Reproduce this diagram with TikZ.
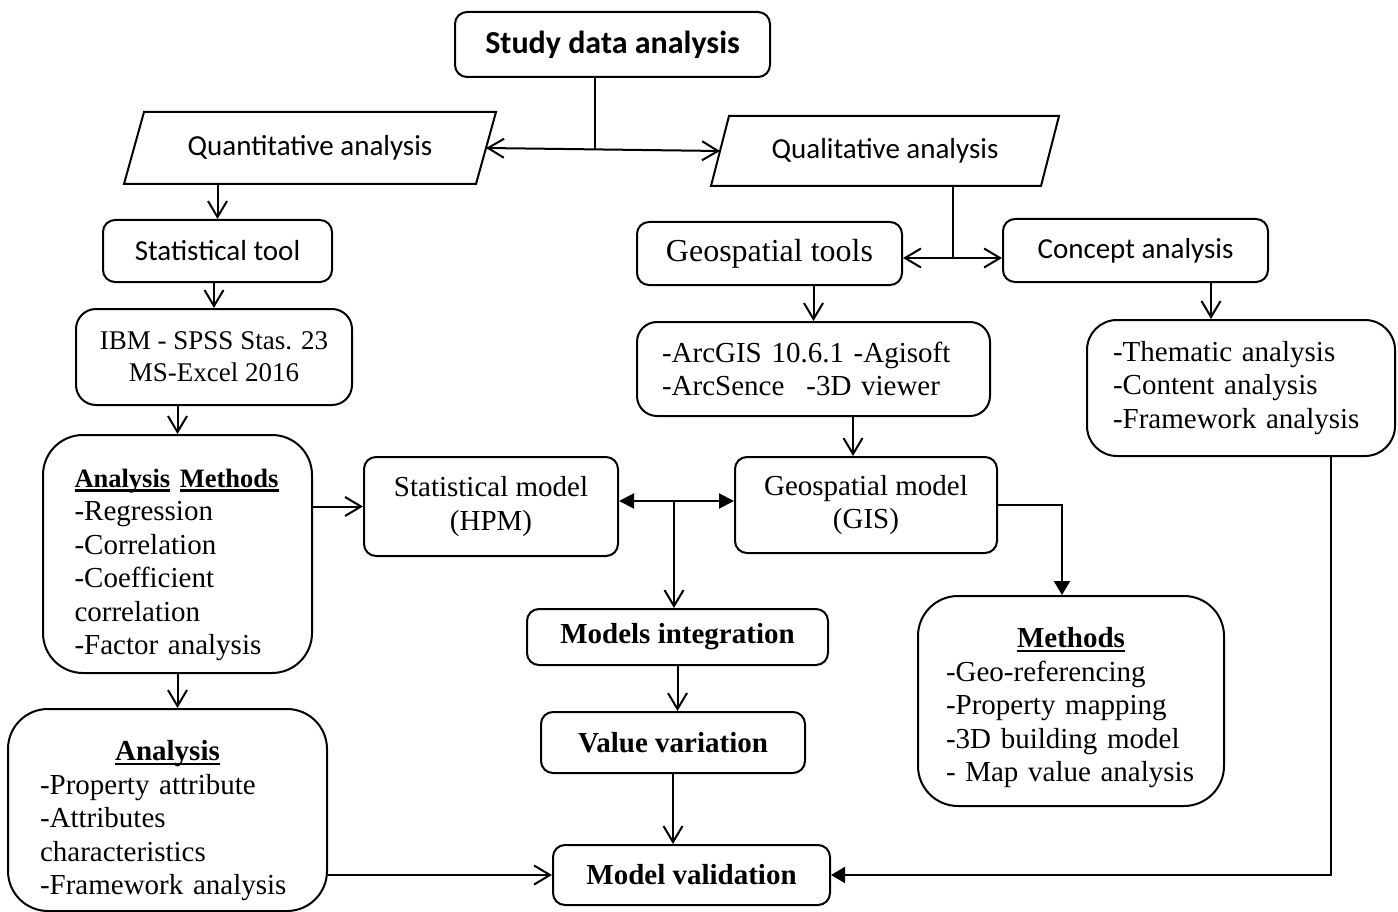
\documentclass[tikz,border=0pt]{standalone}
\usepackage{fontspec}
\setmainfont{Liberation Serif}
\newfontfamily\calib{Carlito}
\usetikzlibrary{arrows.meta,calc}
% thick underline for the box headings
\newcommand\ulbox[1]{\setbox0\hbox{#1}\rlap{\rule[-4.5pt]{\wd0}{2.2pt}}\box0}
\begin{document}
\begin{tikzpicture}[x=1pt,y=-1pt,line width=2pt,
  box/.style={draw,rounded corners=12pt,inner sep=0pt,align=center,
    font=\fontsize{29}{33.5}\selectfont},
  sbox/.style={box,font=\calib\fontsize{29}{34}\selectfont},
  para/.style={inner sep=0pt,align=center,font=\calib\fontsize{29}{34}\selectfont},
  opentip/.style={-{Straight Barb[length=16pt,width=19pt]}},
  bothopen/.style={{Straight Barb[length=16pt,width=19pt]}-{Straight Barb[length=16pt,width=19pt]}},
  filltip/.style={-{Triangle[length=14pt,width=16pt]}},
  bothfill/.style={{Triangle[length=15pt,width=15pt]}-{Triangle[length=15pt,width=15pt]}}]
\useasboundingbox (0,0) rectangle (1398,912);

% top level
\node[sbox,minimum width=315,minimum height=65,font=\calib\bfseries\fontsize{32}{38}\selectfont]
  (study) at (612.5,44.5) {Study data analysis};

\node[para,minimum width=350,minimum height=70] (quant) at (310,148) {Quantitative analysis};
\draw ([xshift=-10pt]quant.south west) -- ([xshift=10pt]quant.north west)
   -- ([xshift=10pt]quant.north east) -- ([xshift=-10pt]quant.south east) -- cycle;
\node[para,minimum width=328,minimum height=68] (qual) at (885,151) {Qualitative analysis};
\draw ([xshift=-9pt]qual.south west) -- ([xshift=9pt]qual.north west)
   -- ([xshift=9pt]qual.north east) -- ([xshift=-9pt]qual.south east) -- cycle;

% quantitative branch
\node[sbox,minimum width=229,minimum height=62] (stool) at (217.5,251) {Statistical tool};
\node[box,rounded corners=20pt,minimum width=276,minimum height=96,
  font=\fontsize{27}{32}\selectfont] (ibm) at (214,357) {IBM - SPSS Stas. 23\\MS-Excel 2016};
\node[box,rounded corners=40pt,minimum width=269,minimum height=238,text width=206,align=left]
  (am) at (177.5,554)
  {\rule{0pt}{40pt}{\bfseries\fontsize{26.5}{33.5}\selectfont\ulbox{Analysis}\ \ulbox{Methods}}\\
   -Regression\\-Correlation\\-Coefficient\\correlation\\-Factor analysis};
\node[box,rounded corners=40pt,minimum width=319,minimum height=202,text width=255,align=left]
  (an) at (167.5,810)
  {\centerline{\rule{0pt}{42pt}\bfseries\ulbox{Analysis}}
   -Property attribute\\-Attributes\\characteristics\\-Framework analysis};

% qualitative branch
\node[box,minimum width=265,minimum height=63,font=\fontsize{32}{38}\selectfont]
  (geotools) at (769.5,253.5) {Geospatial tools};
\node[sbox,minimum width=265,minimum height=63] (concept) at (1135.5,250.5) {Concept analysis};
\node[box,rounded corners=20pt,minimum width=353,minimum height=94,text width=303,align=left]
  (arcgis) at (813.5,369) {-ArcGIS 10.6.1 -Agisoft\\-ArcSence\hspace{22pt}-3D viewer};
\node[box,rounded corners=30pt,minimum width=308,minimum height=136,text width=256,align=left]
  (them) at (1241,388) {-Thematic analysis\\-Content analysis\\-Framework analysis};

% models
\node[box,minimum width=254,minimum height=99] (statm) at (491,506.5) {Statistical model\\(HPM)};
\node[box,minimum width=262,minimum height=96] (geom) at (866,505) {Geospatial model\\(GIS)};
\node[box,rounded corners=40pt,minimum width=306,minimum height=210,text width=250,align=left]
  (meth) at (1071,701)
  {\centerline{\rule{0pt}{34pt}\bfseries\ulbox{Methods}}
   -Geo-referencing\\-Property mapping\\-3D building model\\- Map value analysis};
\node[box,minimum width=301,minimum height=56,font=\bfseries\fontsize{29}{33.5}\selectfont]
  (integ) at (677.5,637) {Models integration};
\node[box,minimum width=264,minimum height=61,font=\bfseries\fontsize{29}{33.5}\selectfont]
  (vv) at (673,742.5) {Value variation};
\node[box,minimum width=277,minimum height=60,font=\bfseries\fontsize{29}{33.5}\selectfont]
  (mv) at (691.5,875) {Model validation};

% junction points
\coordinate (j1) at (595,150);
\coordinate (j2) at (953,258);
\coordinate (j3) at (674,501);
\coordinate (g1) at ([xshift=-13pt]geom.north);
\coordinate (t1) at ([xshift=-30pt]them.north);
\coordinate (t2) at ([xshift=90pt]them.south);
\coordinate (m1) at ([xshift=-9pt]meth.north);

% connectors
\draw (study.south -| j1) -- (j1);
\draw[bothopen] (quant.east) -- (qual.west);
\draw[opentip] (stool.north |- quant.south) -- (stool.north);
\draw[opentip] (stool.south -| ibm.north) -- (ibm.north);
\draw[opentip] (ibm.south -| am.north) -- (am.north);
\draw[opentip] (am.south) -- (am.south |- an.north);
\draw[opentip] (am.east |- statm.west) -- (statm.west);
\draw[opentip] (an.east |- mv.west) -- (mv.west);

\draw (qual.south -| j2) -- (j2);
\draw[opentip] (j2) -- (j2 -| geotools.east);
\draw[opentip] (j2) -- (j2 -| concept.west);
\draw[opentip] (geotools.south -| arcgis.north) -- (arcgis.north);
\draw[opentip] (arcgis.south -| g1) -- (g1);
\draw[opentip] (concept.south -| t1) -- (t1);

\draw[bothfill] (statm.east |- j3) -- (geom.west |- j3);
\draw[opentip] (j3) -- (j3 |- integ.north);
\draw[opentip] (integ.south) -- (integ.south |- vv.north);
\draw[opentip] (vv.south) -- (vv.south |- mv.north);
\draw[filltip] (geom.east) -| (m1);
\draw[filltip] (t2) |- (mv.east);
\end{tikzpicture}
\end{document}
